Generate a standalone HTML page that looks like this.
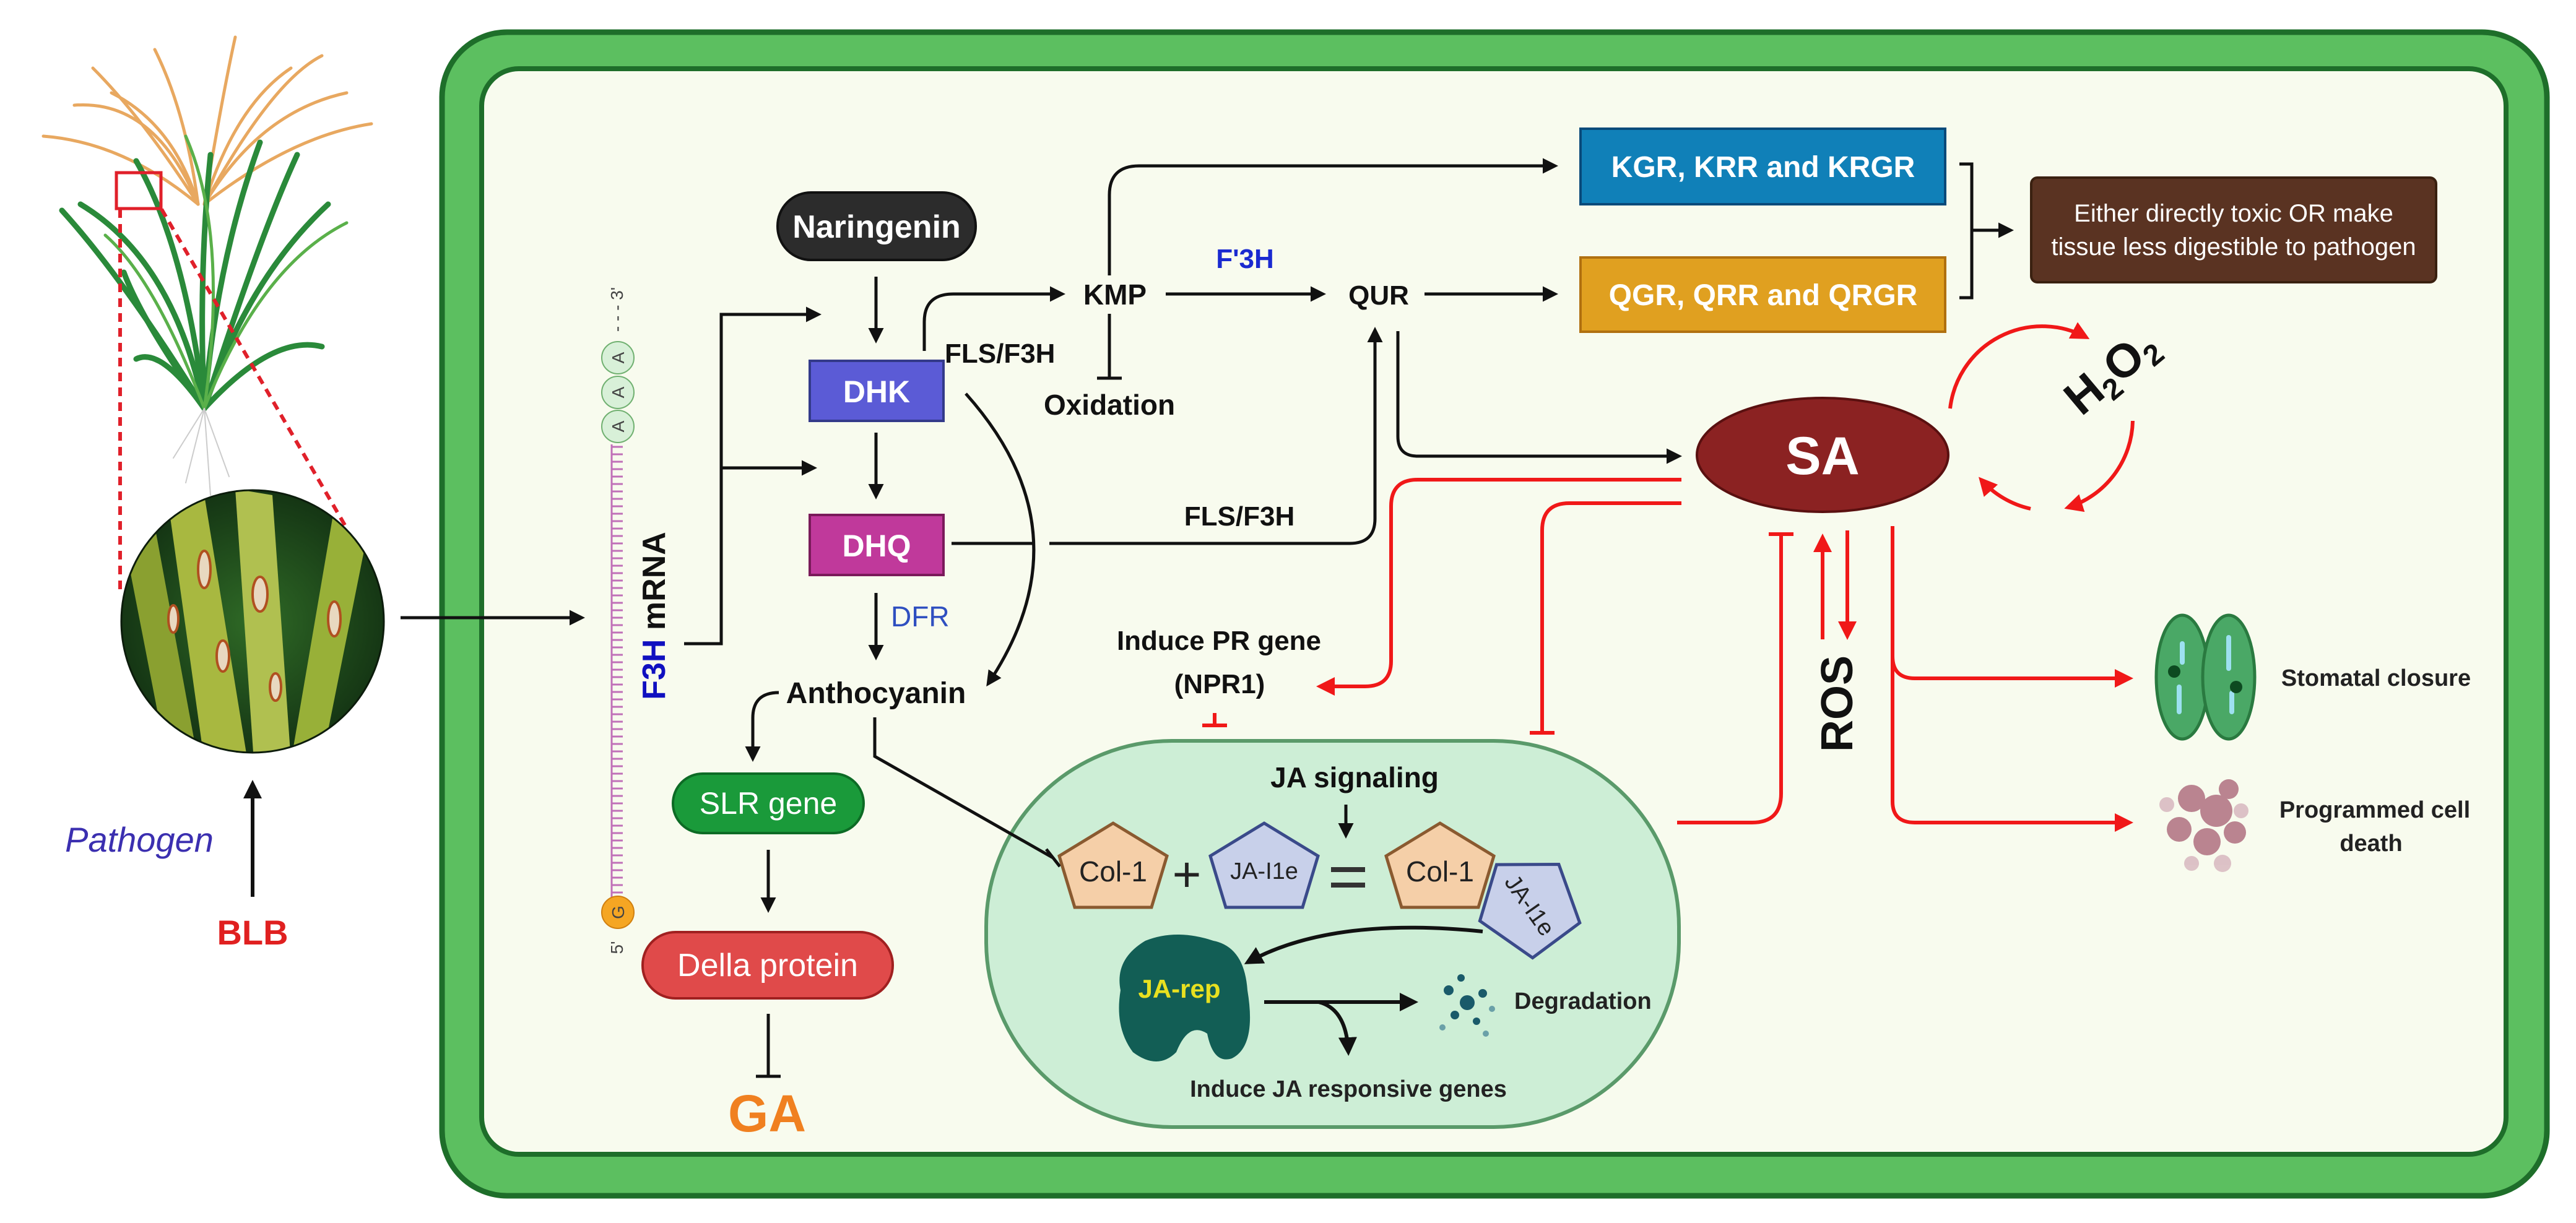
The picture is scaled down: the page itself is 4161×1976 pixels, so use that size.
<!DOCTYPE html>
<html><head><meta charset="utf-8">
<style>
html,body{margin:0;padding:0;background:#fff;}
svg{display:block;}
text{font-family:"Liberation Sans",sans-serif;}
</style></head>
<body>
<svg width="4161" height="1976" viewBox="0 0 4161 1976" xmlns="http://www.w3.org/2000/svg">
<defs>
<marker id="ab" viewBox="0 0 10 10" refX="8" refY="5" markerWidth="5" markerHeight="5" orient="auto-start-reverse" markerUnits="strokeWidth"><path d="M0,0 L10,5 L0,10 z" fill="#111"/></marker>
<marker id="ar" viewBox="0 0 10 10" refX="8" refY="5" markerWidth="5" markerHeight="5" orient="auto-start-reverse" markerUnits="strokeWidth"><path d="M0,0 L10,5 L0,10 z" fill="#f01818"/></marker>
<clipPath id="cc"><circle cx="408" cy="1004" r="212"/></clipPath>
<radialGradient id="bg" cx="50%" cy="50%" r="60%"><stop offset="0" stop-color="#2f6a26"/><stop offset="1" stop-color="#0f2a10"/></radialGradient>
</defs>
<rect width="4161" height="1976" fill="#fff"/>

<!-- cell -->
<rect x="714" y="52" width="3400" height="1880" rx="105" fill="#5cbf60" stroke="#1e6e2a" stroke-width="9"/>
<rect x="778" y="111" width="3270" height="1754" rx="60" fill="#f8fbee" stroke="#1e6e2a" stroke-width="8"/>

<!-- rice plant -->
<g fill="none" stroke-linecap="round">
<g stroke="#e8a860" stroke-width="5">
<path d="M320,330 Q280,200 180,150"/><path d="M320,330 Q250,160 120,170"/><path d="M320,330 Q300,180 250,80"/><path d="M320,330 Q200,230 70,220"/>
<path d="M330,330 Q380,170 470,110"/><path d="M330,330 Q420,180 560,150"/><path d="M330,330 Q470,220 600,200"/><path d="M330,330 Q360,150 380,60"/>
<path d="M320,330 Q230,190 150,110"/><path d="M330,330 Q440,130 520,90"/>
</g>
<g stroke="#2a8a3a" stroke-width="9">
<path d="M330,660 Q280,420 130,330"/><path d="M330,660 Q300,400 220,260"/><path d="M330,660 Q350,420 420,230"/><path d="M330,660 Q400,450 530,330"/>
<path d="M330,660 Q230,520 200,440"/><path d="M330,660 Q440,540 520,560"/><path d="M330,660 Q320,450 340,250"/><path d="M330,660 Q200,450 100,340"/>
<path d="M330,660 Q420,380 480,250"/><path d="M330,660 Q260,560 220,580"/>
</g>
<g stroke="#5ab04a" stroke-width="5">
<path d="M330,660 Q370,380 300,220"/><path d="M330,660 Q250,450 170,380"/><path d="M330,660 Q420,430 560,360"/>
</g>
<g stroke="#ccc" stroke-width="2"><path d="M330,660 L300,780"/><path d="M330,660 L340,800"/><path d="M330,660 L370,770"/><path d="M330,660 L280,740"/></g>
</g>
<rect x="188" y="279" width="72" height="58" fill="none" stroke="#e0202a" stroke-width="5"/>
<path d="M194,338 L194,958" stroke="#e0202a" stroke-width="6" stroke-dasharray="14,10"/>
<path d="M261,338 L562,857" stroke="#e0202a" stroke-width="6" stroke-dasharray="14,10"/>
<g clip-path="url(#cc)">
<rect x="190" y="790" width="440" height="430" fill="url(#bg)"/>
<path d="M270,800 L330,800 L400,1230 L330,1230 z" fill="#a8b840"/>
<path d="M380,790 L440,800 L470,1230 L410,1230 z" fill="#b0c050"/>
<path d="M540,820 L600,830 L520,1230 L470,1230 z" fill="#98b038"/>
<path d="M200,870 L250,850 L320,1230 L270,1230 z" fill="#8aa030"/>
<g fill="#e8d8c0" stroke="#b05020" stroke-width="4"><ellipse cx="330" cy="920" rx="10" ry="30"/><ellipse cx="420" cy="960" rx="12" ry="28"/><ellipse cx="360" cy="1060" rx="10" ry="25"/><ellipse cx="540" cy="1000" rx="10" ry="28"/><ellipse cx="280" cy="1000" rx="8" ry="22"/><ellipse cx="445" cy="1110" rx="9" ry="22"/></g>
</g>
<circle cx="408" cy="1004" r="212" fill="none" stroke="#0c1c0c" stroke-width="3"/>
<line x1="647" y1="998" x2="940" y2="998" stroke="#111" stroke-width="5" marker-end="url(#ab)"/>
<text x="225" y="1376" font-size="56" font-style="italic" fill="#3b2fb0" text-anchor="middle">Pathogen</text>
<line x1="408" y1="1449" x2="408" y2="1266" stroke="#111" stroke-width="6" marker-end="url(#ab)"/>
<text x="408" y="1526" font-size="56" font-weight="bold" fill="#e02020" text-anchor="middle">BLB</text>

<!-- mRNA -->
<g stroke="#c070b8" stroke-width="3">
<line x1="988" y1="718" x2="988" y2="1452"/>
<path d="M988,722 H1006 M988,734 H1006 M988,746 H1006 M988,758 H1006 M988,770 H1006 M988,782 H1006 M988,794 H1006 M988,806 H1006 M988,818 H1006 M988,830 H1006 M988,842 H1006 M988,854 H1006 M988,866 H1006 M988,878 H1006 M988,890 H1006 M988,902 H1006 M988,914 H1006 M988,926 H1006 M988,938 H1006 M988,950 H1006 M988,962 H1006 M988,974 H1006 M988,986 H1006 M988,998 H1006 M988,1010 H1006 M988,1022 H1006 M988,1034 H1006 M988,1046 H1006 M988,1058 H1006 M988,1070 H1006 M988,1082 H1006 M988,1094 H1006 M988,1106 H1006 M988,1118 H1006 M988,1130 H1006 M988,1142 H1006 M988,1154 H1006 M988,1166 H1006 M988,1178 H1006 M988,1190 H1006 M988,1202 H1006 M988,1214 H1006 M988,1226 H1006 M988,1238 H1006 M988,1250 H1006 M988,1262 H1006 M988,1274 H1006 M988,1286 H1006 M988,1298 H1006 M988,1310 H1006 M988,1322 H1006 M988,1334 H1006 M988,1346 H1006 M988,1358 H1006 M988,1370 H1006 M988,1382 H1006 M988,1394 H1006 M988,1406 H1006 M988,1418 H1006 M988,1430 H1006 M988,1442 H1006"/>
</g>
<g fill="#d8f0d8" stroke="#70b070" stroke-width="2">
<circle cx="998" cy="578" r="26"/><circle cx="998" cy="634" r="26"/><circle cx="998" cy="689" r="26"/></g>
<g font-size="28" fill="#444" text-anchor="middle">
<text transform="translate(1008,578) rotate(-90)">A</text><text transform="translate(1008,634) rotate(-90)">A</text><text transform="translate(1008,689) rotate(-90)">A</text>
<text transform="translate(1006,500) rotate(-90)">- - - 3'</text>
<text transform="translate(1006,1531) rotate(-90)">5'</text></g>
<circle cx="998" cy="1474" r="26" fill="#f5a623" stroke="#d08010" stroke-width="2"/>
<text transform="translate(1008,1474) rotate(-90)" font-size="28" fill="#444" text-anchor="middle">G</text>
<text transform="translate(1074,995) rotate(-90)" font-size="52" font-weight="bold" text-anchor="middle"><tspan fill="#1010c0">F3H</tspan><tspan fill="#111"> mRNA</tspan></text>

<!-- mRNA arrows -->
<path d="M1105,1040 H1165 V508 H1322" fill="none" stroke="#111" stroke-width="5" marker-end="url(#ab)"/>
<path d="M1165,756 H1315" fill="none" stroke="#111" stroke-width="5" marker-end="url(#ab)"/>

<!-- Naringenin -->
<rect x="1256" y="311" width="320" height="109" rx="54" fill="#2c2c2c" stroke="#111" stroke-width="4"/>
<text x="1416" y="384" font-size="52" font-weight="bold" fill="#fff" text-anchor="middle">Naringenin</text>
<line x1="1415" y1="447" x2="1415" y2="550" stroke="#111" stroke-width="5" marker-end="url(#ab)"/>
<rect x="1308" y="583" width="216" height="97" fill="#5b5bd6" stroke="#333a8a" stroke-width="4"/>
<text x="1416" y="650" font-size="50" font-weight="bold" fill="#fff" text-anchor="middle">DHK</text>
<line x1="1415" y1="699" x2="1415" y2="802" stroke="#111" stroke-width="5" marker-end="url(#ab)"/>
<rect x="1308" y="832" width="216" height="97" fill="#c0399b" stroke="#7a1a5a" stroke-width="4"/>
<text x="1416" y="899" font-size="50" font-weight="bold" fill="#fff" text-anchor="middle">DHQ</text>
<line x1="1415" y1="958" x2="1415" y2="1062" stroke="#111" stroke-width="5" marker-end="url(#ab)"/>
<text x="1439" y="1012" font-size="46" fill="#2f4fc0">DFR</text>
<text x="1415" y="1136" font-size="48" font-weight="bold" fill="#111" text-anchor="middle">Anthocyanin</text>
<path d="M1258,1119 Q1216,1119 1216,1160 V1226" fill="none" stroke="#111" stroke-width="5" marker-end="url(#ab)"/>
<rect x="1087" y="1250" width="308" height="96" rx="48" fill="#1a9a3a" stroke="#0d6b25" stroke-width="4"/>
<text x="1241" y="1315" font-size="50" fill="#fff" text-anchor="middle">SLR gene</text>
<line x1="1241" y1="1373" x2="1241" y2="1470" stroke="#111" stroke-width="5" marker-end="url(#ab)"/>
<rect x="1038" y="1506" width="404" height="107" rx="53" fill="#e04a4a" stroke="#a02020" stroke-width="4"/>
<text x="1240" y="1577" font-size="52" fill="#fff" text-anchor="middle">Della protein</text>
<path d="M1241,1638 V1739 M1221,1739 H1261" stroke="#111" stroke-width="5"/>
<text x="1239" y="1828" font-size="84" font-weight="bold" fill="#f08020" text-anchor="middle">GA</text>

<!-- DHK to KMP -->
<path d="M1493,567 V520 Q1493,475 1540,475 H1716" fill="none" stroke="#111" stroke-width="5" marker-end="url(#ab)"/>
<text x="1526" y="586" font-size="44" font-weight="bold" fill="#111">FLS/F3H</text>
<text x="1801" y="492" font-size="46" font-weight="bold" fill="#111" text-anchor="middle">KMP</text>
<path d="M1792,507 V611 M1772,611 H1812" stroke="#111" stroke-width="5"/>
<text x="1792" y="670" font-size="46" font-weight="bold" fill="#111" text-anchor="middle">Oxidation</text>
<path d="M1792,445 V315 Q1792,268 1840,268 H2512" fill="none" stroke="#111" stroke-width="5" marker-end="url(#ab)"/>
<line x1="1883" y1="475" x2="2137" y2="475" stroke="#111" stroke-width="5" marker-end="url(#ab)"/>
<text x="2011" y="433" font-size="44" font-weight="bold" fill="#1a2ad0" text-anchor="middle">F'3H</text>
<text x="2227" y="492" font-size="44" font-weight="bold" fill="#111" text-anchor="middle">QUR</text>
<line x1="2301" y1="475" x2="2512" y2="475" stroke="#111" stroke-width="5" marker-end="url(#ab)"/>
<rect x="2553" y="208" width="589" height="122" fill="#1080b8" stroke="#0a4a7a" stroke-width="4"/>
<text x="2848" y="286" font-size="48" font-weight="bold" fill="#fff" text-anchor="middle">KGR, KRR and KRGR</text>
<rect x="2553" y="416" width="589" height="120" fill="#e0a020" stroke="#b07010" stroke-width="4"/>
<text x="2848" y="493" font-size="48" font-weight="bold" fill="#fff" text-anchor="middle">QGR, QRR and QRGR</text>
<path d="M3165,265 H3185 V481 H3165" fill="none" stroke="#111" stroke-width="5"/>
<line x1="3185" y1="372" x2="3248" y2="372" stroke="#111" stroke-width="5" marker-end="url(#ab)"/>
<rect x="3281" y="287" width="654" height="169" rx="10" fill="#5a3322" stroke="#3a2010" stroke-width="4"/>
<text x="3608" y="358" font-size="40" fill="#fff" text-anchor="middle">Either directly toxic OR make</text>
<text x="3608" y="412" font-size="40" fill="#fff" text-anchor="middle">tissue less digestible to pathogen</text>

<!-- DHQ to QUR -->
<path d="M1537,878 H1670 M1695,878 H2180 Q2221,878 2221,838 V533" fill="none" stroke="#111" stroke-width="5" marker-end="url(#ab)"/>
<text x="2002" y="849" font-size="44" font-weight="bold" fill="#111" text-anchor="middle">FLS/F3H</text>
<path d="M1560,636 Q1760,860 1596,1105" fill="none" stroke="#111" stroke-width="5" marker-end="url(#ab)"/>
<!-- QUR to SA -->
<path d="M2258,535 V705 Q2258,737 2290,737 H2712" fill="none" stroke="#111" stroke-width="5" marker-end="url(#ab)"/>

<!-- SA -->
<ellipse cx="2944" cy="735" rx="203" ry="92" fill="#8b2222" stroke="#5a1010" stroke-width="4"/>
<text x="2944" y="766" font-size="86" font-weight="bold" fill="#fff" text-anchor="middle">SA</text>
<text transform="translate(3426,620) rotate(-40)" font-size="76" font-weight="bold" fill="#111" text-anchor="middle">H<tspan font-size="48" dy="14">2</tspan><tspan dy="-14">O</tspan><tspan font-size="48" dy="14">2</tspan></text>
<g fill="none" stroke="#f01818" stroke-width="6">
<path d="M3150,660 A150,150 0 0 1 3370,545" marker-end="url(#ar)"/>
<path d="M3445,680 A150,150 0 0 1 3340,820" marker-end="url(#ar)"/>
<path d="M3280,822 A150,150 0 0 1 3200,775" marker-end="url(#ar)"/>
</g>

<!-- red connectors -->
<g fill="none" stroke="#f01818" stroke-width="6">
<path d="M2716,775 H2290 Q2247,775 2247,818 V1068 Q2247,1109 2205,1109 H2132" marker-end="url(#ar)"/>
<path d="M2716,813 H2535 Q2491,813 2491,857 V1184 M2471,1184 H2511"/>
<path d="M2709,1329 H2830 Q2877,1329 2877,1282 V863 M2857,863 H2897"/>
<line x1="2944" y1="1033" x2="2944" y2="868" marker-end="url(#ar)"/>
<line x1="2984" y1="857" x2="2984" y2="1028" marker-end="url(#ar)"/>
<path d="M3057,850 V1060 Q3057,1096 3093,1096 H3440" marker-end="url(#ar)"/>
<path d="M3057,1050 V1295 Q3057,1329 3093,1329 H3440" marker-end="url(#ar)"/>
<path d="M1962,1152 V1172 M1942,1172 H1982"/>
</g>
<text x="1969" y="1050" font-size="44" font-weight="bold" fill="#111" text-anchor="middle">Induce PR gene</text>
<text x="1970" y="1120" font-size="44" font-weight="bold" fill="#111" text-anchor="middle">(NPR1)</text>
<text transform="translate(2992,1137) rotate(-90)" font-size="72" font-weight="bold" fill="#111" text-anchor="middle">ROS</text>

<!-- stomata -->
<g>
<ellipse cx="3525" cy="1094" rx="42" ry="100" fill="#4aa866" stroke="#2a7a40" stroke-width="5"/>
<ellipse cx="3600" cy="1094" rx="42" ry="100" fill="#4aa866" stroke="#2a7a40" stroke-width="5"/>
<path d="M3525,1040 v30 M3520,1110 v40 M3600,1030 v50 M3605,1120 v30" stroke="#9de0f0" stroke-width="8" stroke-linecap="round"/>
<circle cx="3512" cy="1085" r="10" fill="#0d4a20"/><circle cx="3612" cy="1110" r="10" fill="#0d4a20"/>
</g>
<text x="3838" y="1108" font-size="38" font-weight="bold" fill="#222" text-anchor="middle">Stomatal closure</text>
<g fill="#b07080" opacity="0.85">
<circle cx="3540" cy="1290" r="22"/><circle cx="3580" cy="1310" r="26"/><circle cx="3520" cy="1340" r="20"/><circle cx="3565" cy="1360" r="22"/><circle cx="3600" cy="1275" r="16"/><circle cx="3610" cy="1345" r="18"/><circle cx="3500" cy="1300" r="12" fill="#d8b8c0"/><circle cx="3590" cy="1395" r="14" fill="#d8b8c0"/><circle cx="3540" cy="1395" r="12" fill="#d8b8c0"/><circle cx="3620" cy="1310" r="12" fill="#d8b8c0"/>
</g>
<text x="3836" y="1321" font-size="38" font-weight="bold" fill="#222" text-anchor="middle">Programmed cell</text>
<text x="3830" y="1375" font-size="38" font-weight="bold" fill="#222" text-anchor="middle">death</text>

<!-- JA oval -->
<rect x="1593" y="1197" width="1119" height="624" rx="300" ry="300" fill="#cdeed6" stroke="#5a9a6a" stroke-width="6"/>
<path d="M1413,1159 V1222 L1701,1386 M1690,1372 L1712,1400" fill="none" stroke="#111" stroke-width="5"/>
<text x="2188" y="1272" font-size="46" font-weight="bold" fill="#111" text-anchor="middle">JA signaling</text>
<line x1="2174" y1="1300" x2="2174" y2="1350" stroke="#111" stroke-width="5" marker-end="url(#ab)"/>
<polygon points="1798,1330 1885,1383 1860,1466 1736,1466 1711,1383" fill="#f5cfa8" stroke="#8a5a30" stroke-width="5"/>
<text x="1798" y="1424" font-size="46" fill="#222" text-anchor="middle">Col-1</text>
<text x="1917" y="1440" font-size="80" fill="#222" text-anchor="middle">+</text>
<polygon points="2042,1330 2129,1383 2104,1466 1980,1466 1955,1383" fill="#c8d0ea" stroke="#3a4a8a" stroke-width="5"/>
<text x="2042" y="1420" font-size="38" fill="#222" text-anchor="middle">JA-I1e</text>
<path d="M2150,1405 H2205 M2150,1430 H2205" stroke="#333" stroke-width="8"/>
<polygon points="2326,1330 2413,1383 2388,1466 2264,1466 2239,1383" fill="#f5cfa8" stroke="#8a5a30" stroke-width="5"/>
<text x="2326" y="1424" font-size="46" fill="#222" text-anchor="middle">Col-1</text>
<g transform="translate(2472,1462) rotate(35)">
<polygon points="0,-80 82,-22 52,68 -52,68 -82,-22" fill="#c8d0ea" stroke="#3a4a8a" stroke-width="5"/>
<text x="0" y="14" font-size="38" fill="#222" text-anchor="middle" transform="rotate(20)">JA-I1e</text>
</g>
<path d="M2395,1505 Q2150,1480 2015,1555" fill="none" stroke="#111" stroke-width="6" marker-end="url(#ab)"/>
<path d="M1850,1520 Q1900,1500 1960,1520 Q2010,1530 2015,1600 Q2030,1690 1990,1710 Q1960,1720 1950,1670 Q1920,1650 1900,1700 Q1870,1730 1830,1700 Q1800,1660 1810,1600 Q1800,1550 1850,1520 z" fill="#125e55"/>
<text x="1905" y="1612" font-size="42" font-weight="bold" fill="#e8e020" text-anchor="middle">JA-rep</text>
<line x1="2042" y1="1619" x2="2285" y2="1619" stroke="#111" stroke-width="6" marker-end="url(#ab)"/>
<path d="M2130,1619 Q2175,1630 2178,1700" fill="none" stroke="#111" stroke-width="6" marker-end="url(#ab)"/>
<g fill="#1a5a6a">
<circle cx="2340" cy="1600" r="8"/><circle cx="2370" cy="1620" r="12"/><circle cx="2395" cy="1605" r="7"/><circle cx="2350" cy="1640" r="7"/><circle cx="2385" cy="1650" r="6"/><circle cx="2330" cy="1660" r="5" fill="#6aa0a8"/><circle cx="2410" cy="1630" r="5" fill="#6aa0a8"/><circle cx="2360" cy="1580" r="6"/><circle cx="2400" cy="1670" r="5" fill="#6aa0a8"/>
</g>
<text x="2446" y="1630" font-size="38" font-weight="bold" fill="#222">Degradation</text>
<text x="2178" y="1772" font-size="38" font-weight="bold" fill="#222" text-anchor="middle">Induce JA responsive genes</text>
</svg>
</body></html>
